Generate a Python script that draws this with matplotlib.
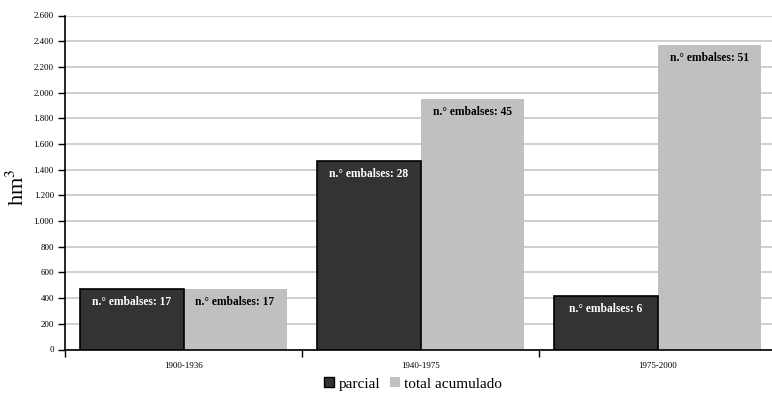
import matplotlib
matplotlib.use("Agg")
import matplotlib.pyplot as plt
from matplotlib.ticker import FixedLocator, FuncFormatter
from matplotlib.patches import Patch
import numpy as np

periodos = ["1900-1936", "1940-1975", "1975-2000"]
parcial = [472, 1470, 415]
total_acumulado = [472, 1952, 2370]
embalses_parcial = [17, 28, 6]
embalses_total = [17, 45, 51]

plt.rcParams["font.family"] = ["Liberation Serif", "DejaVu Serif"]

fig = plt.figure(figsize=(7.72, 3.94), dpi=100)
W, H = 772, 394
left, right, top, bottom = 65, 776, 15.5, 349.5
ax = fig.add_axes([left / W, 1 - bottom / H, (right - left) / W, (bottom - top) / H])

x = np.arange(len(periodos))
bw = 0.435
dark = "#333333"
light = "#c0c0c0"

ax.bar(x - bw / 2, parcial, width=bw, color=dark, edgecolor="black", linewidth=1.2, zorder=3)
ax.bar(x + bw / 2, total_acumulado, width=bw, color=light, edgecolor="none", zorder=2)

for xi, v, n in zip(x, parcial, embalses_parcial):
    ax.text(xi - bw / 2, v - 55, f"n.° embalses: {n}", ha="center", va="top",
            fontsize=8.3, fontweight="bold", color="white", zorder=4)
for xi, v, n in zip(x, total_acumulado, embalses_total):
    ax.text(xi + bw / 2, v - 55, f"n.° embalses: {n}", ha="center", va="top",
            fontsize=8.3, fontweight="bold", color="black", zorder=4)

ax.set_xlim(-0.5, 2.5)
ax.set_ylim(0, 2600)
ax.set_yticks(np.arange(0, 2601, 200))
ax.yaxis.set_major_formatter(FuncFormatter(lambda v, p: f"{int(v):,}".replace(",", ".")))
ax.grid(axis="y", color="#cccccc", linewidth=1.3, zorder=0)
ax.set_axisbelow(True)

ax.set_xticks(x)
ax.set_xticklabels(periodos, fontsize=6.5)
ax.tick_params(axis="x", which="major", length=0, pad=9)
ax.xaxis.set_minor_locator(FixedLocator([-0.5, 0.5, 1.5, 2.5]))
ax.tick_params(axis="x", which="minor", length=5, width=1, direction="out")
ax.tick_params(axis="y", labelsize=6.5, length=5, width=1, direction="out", pad=3)

for s in ["top", "right"]:
    ax.spines[s].set_visible(False)
for s in ["left", "bottom"]:
    ax.spines[s].set_linewidth(1.2)
    ax.spines[s].set_color("black")

fig.text(18 / W, 1 - 187 / H, "hm$^3$", rotation=90, ha="center", va="center", fontsize=16,
         math_fontfamily="stix")

handles = [Patch(facecolor=dark, edgecolor="black", label="parcial"),
           Patch(facecolor=light, edgecolor="none", label="total acumulado")]
fig.legend(handles=handles, loc="center", bbox_to_anchor=(413 / W, 1 - 384 / H), ncol=2,
           frameon=False, fontsize=11, handlelength=0.65, handleheight=0.65,
           handletextpad=0.26, columnspacing=0.65)

fig.savefig("out.png", dpi=100)
